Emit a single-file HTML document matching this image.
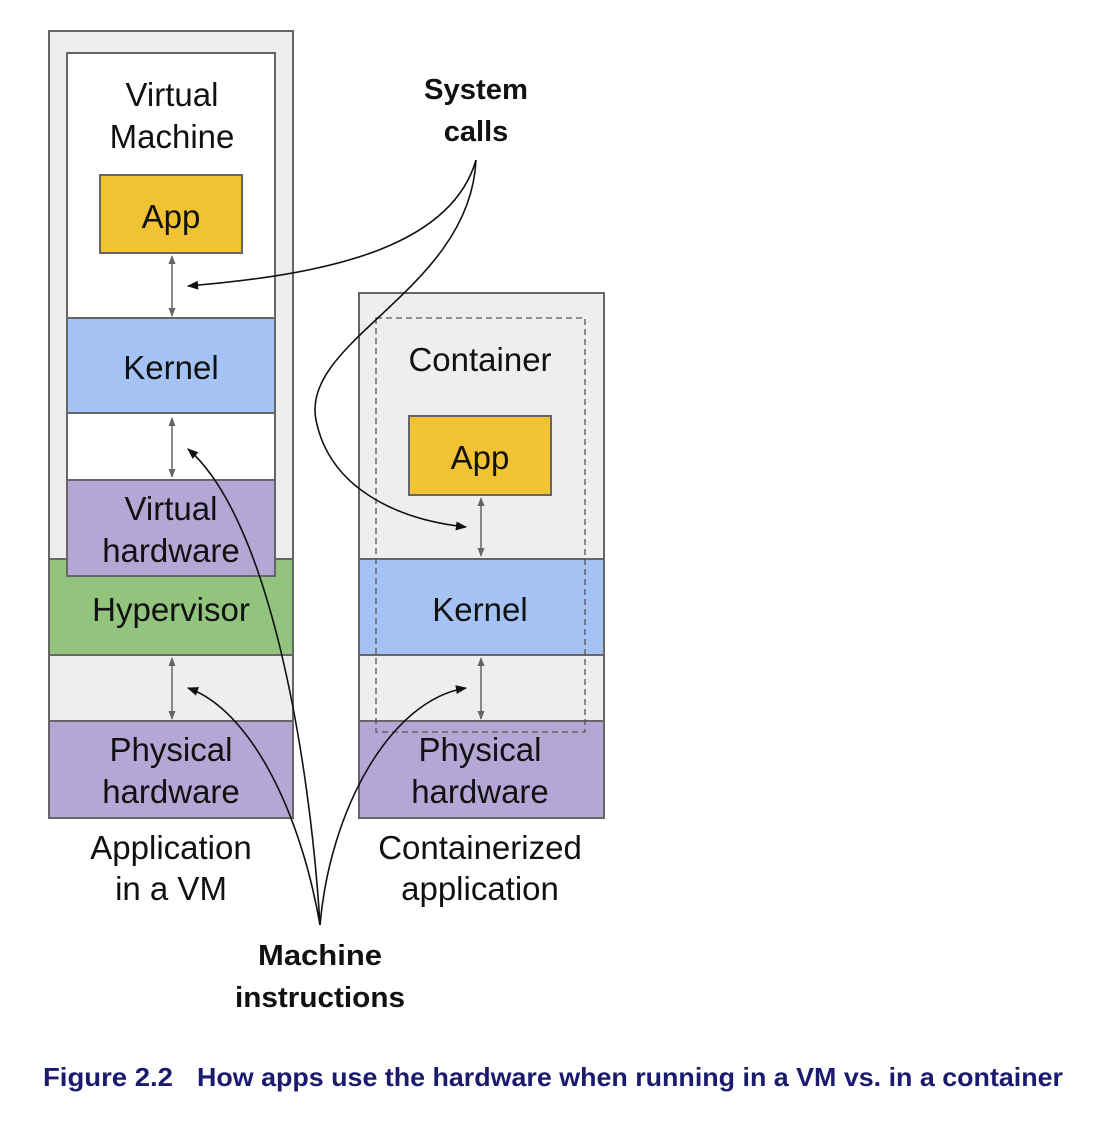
<!DOCTYPE html>
<html><head><style>
body{margin:0;background:#fff;}
svg{display:block;}
text{font-family:"Liberation Sans",sans-serif;}
</style></head><body>
<svg width="1095" height="1122" viewBox="0 0 1095 1122">
<defs>
<marker id="ah" viewBox="0 0 10 10" refX="9" refY="5" markerWidth="7" markerHeight="7" orient="auto-start-reverse"><path d="M0,1 L10,5 L0,9 z" fill="#111"/></marker>
<marker id="gh" viewBox="0 0 10 10" refX="9" refY="5" markerWidth="6" markerHeight="6" orient="auto-start-reverse"><path d="M0,1 L10,5 L0,9 z" fill="#666"/></marker>
</defs>
<g stroke="#666" stroke-width="2">
<rect x="49" y="31" width="244" height="529" fill="#eeeeee"/>
<rect x="67" y="53" width="208" height="265" fill="#fff"/>
<rect x="100" y="175" width="142" height="78" fill="#f1c232"/>
<rect x="67" y="318" width="208" height="95" fill="#a4c2f4"/>
<rect x="67" y="413" width="208" height="67" fill="#fff"/>
<rect x="49" y="559" width="244" height="96" fill="#93c47d"/>
<rect x="67" y="480" width="208" height="96" fill="#b4a7d6"/>
<rect x="49" y="655" width="244" height="66" fill="#eeeeee"/>
<rect x="49" y="721" width="244" height="97" fill="#b4a7d6"/>
<rect x="359" y="293" width="245" height="266" fill="#eeeeee"/>
<rect x="409" y="416" width="142" height="79" fill="#f1c232"/>
<rect x="359" y="559" width="245" height="96" fill="#a4c2f4"/>
<rect x="359" y="655" width="245" height="66" fill="#eeeeee"/>
<rect x="359" y="721" width="245" height="97" fill="#b4a7d6"/>
</g>
<rect x="376" y="318" width="209" height="414" fill="none" stroke="#555" stroke-width="1.3" stroke-dasharray="6,4"/>
<g stroke="#666" stroke-width="1.5" marker-start="url(#gh)" marker-end="url(#gh)">
<line x1="172" y1="256" x2="172" y2="316"/>
<line x1="172" y1="418" x2="172" y2="477"/>
<line x1="172" y1="658" x2="172" y2="719"/>
<line x1="481" y1="498" x2="481" y2="556"/>
<line x1="481" y1="658" x2="481" y2="719"/>
</g>
<g fill="none" stroke="#111" stroke-width="1.6" marker-end="url(#ah)">
<path d="M476,160 C450,250 320,275 188,286"/>
<path d="M476,160 C470,290 300,340 316,420 C330,490 400,520 466,527"/>
<path d="M320,925 C310,760 270,520 188,449"/>
<path d="M320,925 C300,810 250,710 188,688"/>
<path d="M320,925 C330,810 390,700 466,688"/>
</g>
<g font-size="33" fill="#111" text-anchor="middle">
<text x="172" y="106">Virtual</text>
<text x="172" y="148">Machine</text>
<text x="171" y="228">App</text>
<text x="171" y="379">Kernel</text>
<text x="171" y="520">Virtual</text>
<text x="171" y="562">hardware</text>
<text x="171" y="621">Hypervisor</text>
<text x="171" y="761">Physical</text>
<text x="171" y="803">hardware</text>
<text x="171" y="859">Application</text>
<text x="171" y="900">in a VM</text>
<text x="480" y="371">Container</text>
<text x="480" y="469">App</text>
<text x="480" y="621">Kernel</text>
<text x="480" y="761">Physical</text>
<text x="480" y="803">hardware</text>
<text x="480" y="859">Containerized</text>
<text x="480" y="900">application</text>
</g>
<g font-size="29" font-weight="bold" fill="#111" text-anchor="middle">
<text x="476" y="99" textLength="104" lengthAdjust="spacingAndGlyphs">System</text>
<text x="476" y="141">calls</text>
<text x="320" y="965" textLength="124" lengthAdjust="spacingAndGlyphs">Machine</text>
<text x="320" y="1007" textLength="170" lengthAdjust="spacingAndGlyphs">instructions</text>
</g>
<g font-size="26" font-weight="bold" fill="#1a1a6e">
<text x="43" y="1086" textLength="130" lengthAdjust="spacingAndGlyphs">Figure 2.2</text>
<text x="197" y="1086" textLength="866" lengthAdjust="spacingAndGlyphs">How apps use the hardware when running in a VM vs. in a container</text>
</g>
</svg>
</body></html>
